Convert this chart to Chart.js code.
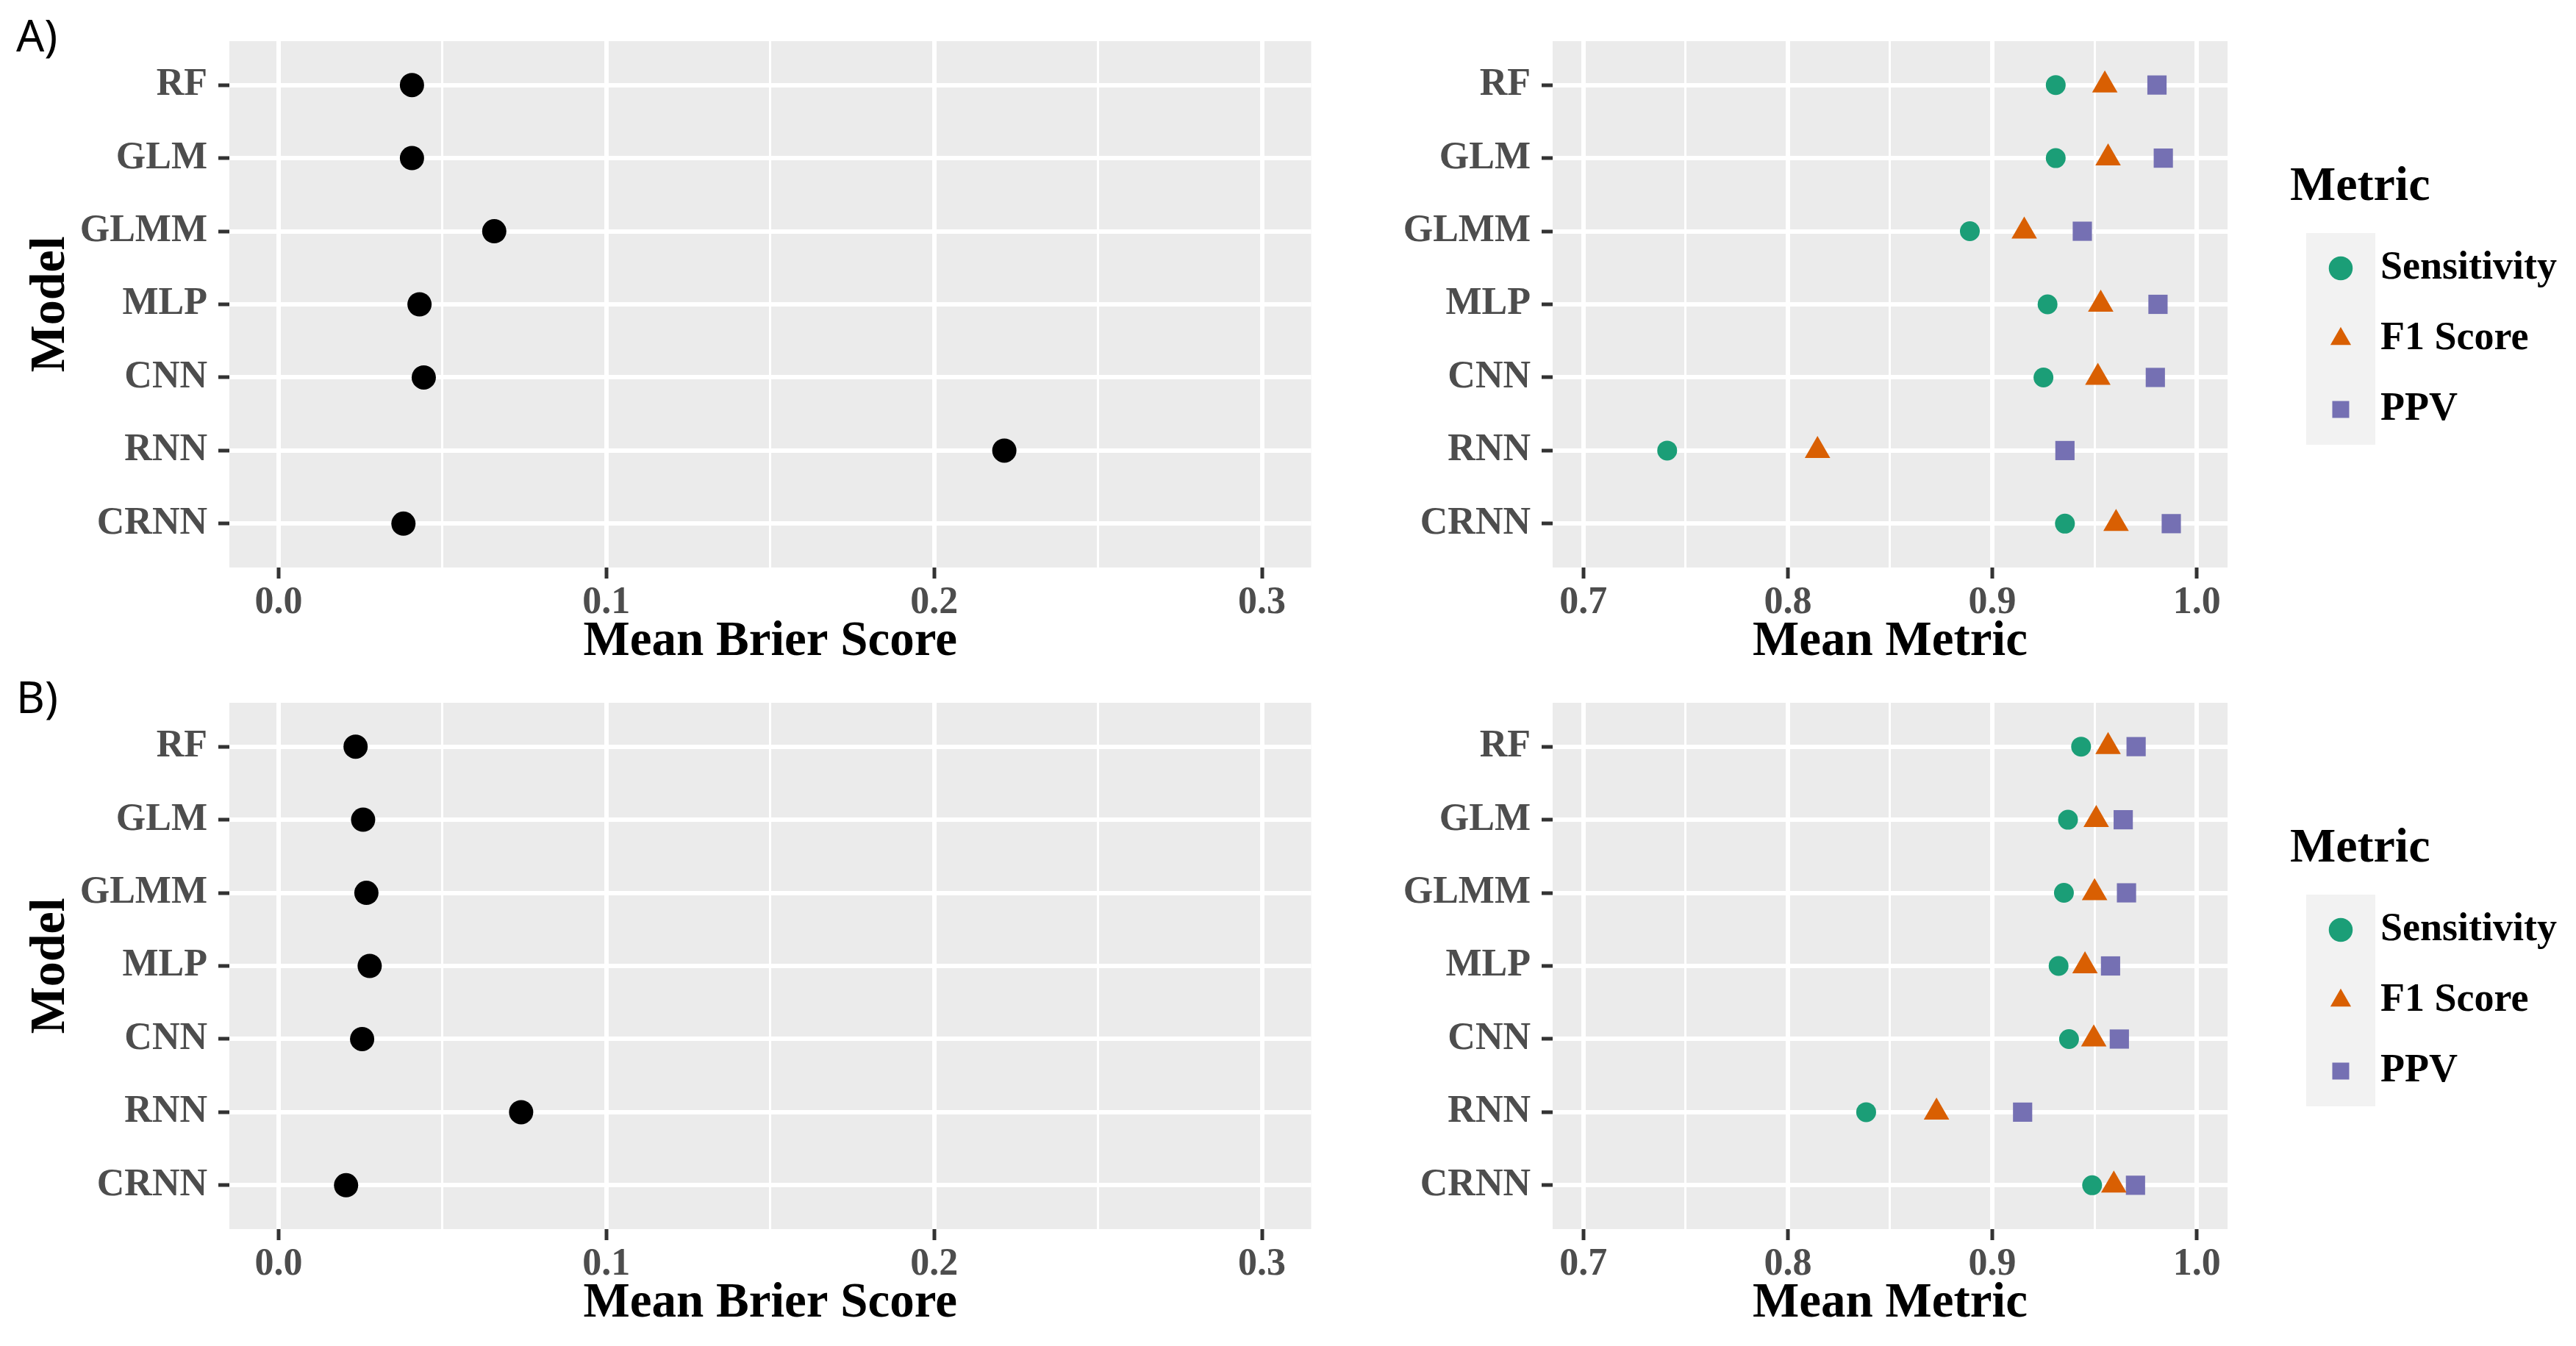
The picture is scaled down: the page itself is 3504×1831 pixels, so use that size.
<!DOCTYPE html>
<html>
<head>
<meta charset="utf-8">
<script src="https://cdn.jsdelivr.net/npm/chart.js@4.4.1/dist/chart.umd.min.js"></script>
<style>
  html, body { margin: 0; padding: 0; background: #fff; }
  body { width: 3504px; height: 1831px; position: relative; overflow: hidden; }
  canvas { position: absolute; background: #fff; }
</style>
</head>
<body>
<canvas id="brierA" width="1800" height="900" style="left:0;top:0"></canvas>
<canvas id="metricA" width="1704" height="900" style="left:1800px;top:0"></canvas>
<canvas id="brierB" width="1800" height="900" style="left:0;top:900px"></canvas>
<canvas id="metricB" width="1704" height="900" style="left:1800px;top:900px"></canvas>
<script>
const models = ['RF', 'GLM', 'GLMM', 'MLP', 'CNN', 'RNN', 'CRNN'];

const brierA = [0.0407, 0.0407, 0.0658, 0.0430, 0.0443, 0.2214, 0.0381];
const brierB = [0.0235, 0.0258, 0.0268, 0.0278, 0.0255, 0.0740, 0.0206];

const sensA = [0.931, 0.931, 0.889, 0.927, 0.925, 0.741, 0.9355];
const f1A = [0.955, 0.9566, 0.9156, 0.953, 0.9516, 0.8145, 0.9605];
const ppvA = [0.9805, 0.9836, 0.944, 0.981, 0.9797, 0.9355, 0.9875];

const sensB = [0.9434, 0.937, 0.935, 0.9324, 0.9375, 0.8383, 0.9488];
const f1B = [0.9566, 0.9508, 0.950, 0.9453, 0.9496, 0.8727, 0.9594];
const ppvB = [0.9703, 0.964, 0.9656, 0.9578, 0.9621, 0.9148, 0.970];

const brierTicks = [0.0, 0.1, 0.2, 0.3];
const metricTicks = [0.7, 0.8, 0.9, 1.0];
const metricNames = ['Sensitivity', 'F1 Score', 'PPV'];

const serif = "'Liberation Serif', 'Times New Roman', serif";
const legendFontSize = 54;
const legendBoxWidth = 54;
const legendPadding = 42;

// width the legend needs, so the plot area ends at the same place as the original
function legendNaturalWidth() {
    const ctx = document.createElement('canvas').getContext('2d');
    ctx.font = 'bold ' + legendFontSize + 'px ' + serif;
    const textW = Math.max(...metricNames.map(n => ctx.measureText(n).width));
    return legendPadding + legendBoxWidth + legendFontSize / 2 + textW + 10;
}
const legendRoom = 1704 - 1229 - 85;
const legendRightPad = Math.max(0, Math.floor(legendRoom - legendNaturalWidth()));

// grey panel + legend key background, drawn before everything else
const panelBackground = {
    id: 'panelBackground',
    beforeDraw(chart) {
        const ctx = chart.ctx;
        const a = chart.chartArea;
        ctx.save();
        ctx.fillStyle = '#EBEBEB';
        ctx.fillRect(a.left, a.top, a.right - a.left, a.bottom - a.top);
        const legend = chart.legend;
        if (legend && legend.options.display && legend.legendHitBoxes && legend.legendHitBoxes.length) {
            const boxes = legend.legendHitBoxes;
            const half = legendFontSize / 2;
            const cx = boxes[0].left + legendBoxWidth / 2;
            const top = boxes[0].top + half - 48;
            const bottom = boxes[boxes.length - 1].top + half + 48;
            ctx.fillStyle = '#F2F2F2';
            ctx.fillRect(cx - 47, top, 94, bottom - top);
        }
        ctx.restore();
    }
};

function xScale(min, max, majors, title) {
    const minors = majors.slice(1).map((t, i) => (t + majors[i]) / 2);
    const isMajor = v => majors.some(t => Math.abs(t - v) < 1e-9);
    return {
        type: 'linear',
        min: min,
        max: max,
        afterBuildTicks: s => {
            s.ticks = majors.concat(minors).sort((a, b) => a - b).map(v => ({ value: v }));
        },
        afterFit: s => { s.height = 128; },
        ticks: {
            callback: v => isMajor(v) ? v.toFixed(1) : '',
            color: '#4D4D4D',
            font: { family: serif, size: 52, weight: 'bold', lineHeight: 1 },
            padding: 8,
            autoSkip: false,
            maxRotation: 0
        },
        grid: {
            color: '#FFFFFF',
            lineWidth: c => (c.tick && isMajor(c.tick.value)) ? 6 : 3,
            tickColor: c => (c.tick && isMajor(c.tick.value)) ? '#333333' : 'rgba(0,0,0,0)',
            tickWidth: 5,
            tickLength: 15
        },
        border: { display: false },
        title: {
            display: true,
            text: title,
            color: '#000000',
            font: { family: serif, size: 67, weight: 'bold', lineHeight: 0.8 },
            padding: { top: 0, bottom: 0 }
        }
    };
}

function yScale(withTitle) {
    return {
        type: 'linear',
        min: 0.4,
        max: 7.6,
        reverse: true,
        afterBuildTicks: s => {
            s.ticks = models.map((m, i) => ({ value: i + 1 }));
        },
        afterFit: s => { s.width = withTitle ? 290 : 312; },
        ticks: {
            callback: v => models[v - 1],
            color: '#4D4D4D',
            font: { family: serif, size: 52, weight: 'bold', lineHeight: 1 },
            padding: 15,
            autoSkip: false
        },
        grid: {
            color: '#FFFFFF',
            lineWidth: 6,
            tickColor: '#333333',
            tickWidth: 5,
            tickLength: 15
        },
        border: { display: false },
        title: {
            display: withTitle,
            text: 'Model',
            color: '#000000',
            font: { family: serif, size: 68, weight: 'bold', lineHeight: 1 },
            padding: { top: 13, bottom: 0 }
        }
    };
}

function points(values) {
    return values.map((v, i) => ({ x: v, y: i + 1 }));
}

function brierChart(id, values, panel) {
    return new Chart(document.getElementById(id), {
        type: 'scatter',
        data: {
            datasets: [{
                label: 'Mean Brier Score',
                data: points(values),
                backgroundColor: '#000000',
                borderColor: '#000000',
                pointRadius: 16.5,
                pointBorderWidth: 0,
                pointStyle: 'circle'
            }]
        },
        options: {
            responsive: false,
            animation: false,
            devicePixelRatio: 1,
            layout: { padding: { left: 22, right: 15, top: 0, bottom: 0 } },
            scales: {
                x: xScale(-0.015, 0.315, brierTicks, 'Mean Brier Score'),
                y: yScale(true)
            },
            plugins: {
                legend: { display: false },
                tooltip: { enabled: false },
                title: {
                    display: true,
                    text: panel,
                    align: 'start',
                    color: '#000000',
                    font: { family: "'Noto Sans', sans-serif", size: 60, weight: 'normal', lineHeight: 0.1 },
                    padding: { top: 50, bottom: 0 }
                }
            }
        },
        plugins: [panelBackground]
    });
}

function metricChart(id, sens, f1, ppv) {
    const series = [sens, f1, ppv];
    const colors = ['#1B9E77', '#D95F02', '#7570B3'];
    const styles = ['circle', 'triangle', 'rect'];
    const radii = [13.5, 20, 18.5];
    return new Chart(document.getElementById(id), {
        type: 'scatter',
        data: {
            datasets: metricNames.map((name, k) => ({
                label: name,
                data: points(series[k]),
                backgroundColor: colors[k],
                borderColor: colors[k],
                pointRadius: radii[k],
                pointBorderWidth: 0,
                borderWidth: 0,
                pointStyle: styles[k]
            }))
        },
        options: {
            responsive: false,
            animation: false,
            devicePixelRatio: 1,
            layout: { padding: { left: 0, right: legendRightPad, top: 56, bottom: 0 } },
            scales: {
                x: xScale(0.685, 1.015, metricTicks, 'Mean Metric'),
                y: yScale(false),
                gap: {
                    type: 'linear',
                    position: 'right',
                    display: true,
                    grid: { display: false },
                    border: { display: false },
                    ticks: { display: false },
                    afterFit: s => { s.width = 85; }
                }
            },
            plugins: {
                tooltip: { enabled: false },
                legend: {
                    position: 'right',
                    align: 'start',
                    maxWidth: legendRoom,
                    title: {
                        display: true,
                        text: 'Metric',
                        position: 'start',
                        color: '#000000',
                        font: { family: serif, size: 66, weight: 'bold', lineHeight: 1 },
                        padding: { top: 166, bottom: 8 }
                    },
                    labels: {
                        usePointStyle: true,
                        boxWidth: legendBoxWidth,
                        boxHeight: 23,
                        padding: legendPadding,
                        color: '#000000',
                        font: { family: serif, size: legendFontSize, weight: 'bold', lineHeight: 1 }
                    }
                }
            }
        },
        plugins: [panelBackground]
    });
}

brierChart('brierA', brierA, 'A)');
metricChart('metricA', sensA, f1A, ppvA);
brierChart('brierB', brierB, 'B)');
metricChart('metricB', sensB, f1B, ppvB);
</script>
</body>
</html>
